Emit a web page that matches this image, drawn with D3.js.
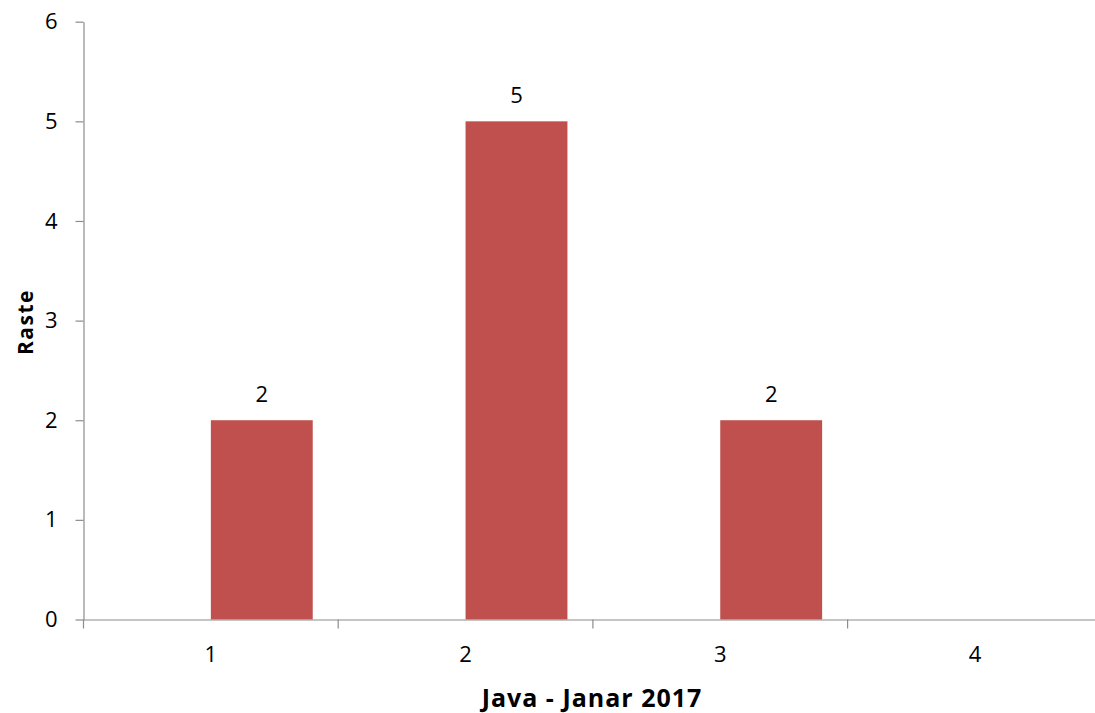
<!DOCTYPE html>
<html>
<head>
<meta charset="utf-8">
<script src="https://cdn.jsdelivr.net/npm/d3@7"></script>
<style>
  html, body { margin: 0; padding: 0; background: #fff; }
  svg { display: block; font-family: "Open Sans", sans-serif; }
</style>
</head>
<body>
<svg id="chart" width="1095" height="713"></svg>
<script>
// Chart data
const categories = ["1", "2", "3", "4"];
const seriesNames = ["Seria 1", "Seria 2"];
const seriesEmpty = [null, null, null, null];
const seriesRaste = [2, 5, 2, null];
const yTicks = [0, 1, 2, 3, 4, 5, 6];
const xTitle = "Java - Janar 2017";
const yTitle = "Raste";

const svg = d3.select("#chart");
const plotLeft = 83.5, plotRight = 1102.3, plotTop = 21.7, plotBottom = 619.5;
const axisColor = "#8c8c8c";
const barColor = "#C0504D";
const fontFamily = "'Open Sans', sans-serif";
const tickFont = 22;

const x0 = d3.scaleBand().domain(categories).range([plotLeft, plotRight]).padding(0);
const x1 = d3.scaleBand().domain(seriesNames).range([0, x0.bandwidth()])
  .paddingInner(0).paddingOuter(0.25);
const y = d3.scaleLinear().domain([0, 6]).range([plotBottom, plotTop]);

const rows = categories.map((c, i) => ({
  cat: c,
  values: [
    { s: seriesNames[0], v: seriesEmpty[i] },
    { s: seriesNames[1], v: seriesRaste[i] }
  ]
}));

// Bars
const groups = svg.append("g").selectAll("g").data(rows).join("g")
  .attr("transform", d => `translate(${x0(d.cat)},0)`);

groups.selectAll("rect")
  .data(d => d.values.filter(v => v.v != null))
  .join("rect")
  .attr("x", d => x1(d.s))
  .attr("width", x1.bandwidth())
  .attr("y", d => y(d.v))
  .attr("height", d => y(0) - y(d.v))
  .attr("fill", barColor);

// Value labels
groups.selectAll("text.val")
  .data(d => d.values.filter(v => v.v != null))
  .join("text")
  .attr("class", "val")
  .attr("x", d => x1(d.s) + x1.bandwidth() / 2)
  .attr("y", d => y(d.v) - 18.5)
  .attr("text-anchor", "middle")
  .attr("font-size", tickFont)
  .attr("font-family", fontFamily)
  .attr("fill", "#000")
  .text(d => d.v);

// Y axis
const yAxis = svg.append("g")
  .attr("transform", `translate(${plotLeft},0)`)
  .call(d3.axisLeft(y).tickValues(yTicks).tickFormat(d3.format("d"))
    .tickSizeInner(8).tickSizeOuter(0).tickPadding(18));
yAxis.select(".domain").attr("stroke", axisColor).attr("stroke-width", 1.2);
yAxis.selectAll(".tick line").attr("stroke", axisColor).attr("stroke-width", 1.2);
yAxis.selectAll(".tick text").attr("font-size", tickFont).attr("fill", "#000")
  .attr("font-family", fontFamily);

// X axis: category labels centred, tick marks on band boundaries
const xAxis = svg.append("g")
  .attr("transform", `translate(0,${plotBottom})`)
  .call(d3.axisBottom(x0).tickSize(0).tickPadding(27));
xAxis.select(".domain").attr("stroke", axisColor).attr("stroke-width", 1.2);
xAxis.selectAll(".tick text").attr("font-size", tickFont).attr("fill", "#000")
  .attr("font-family", fontFamily);

const boundaries = categories.map(c => x0(c)).concat([plotRight]);
xAxis.selectAll("line.sep").data(boundaries).join("line")
  .attr("class", "sep")
  .attr("x1", d => d).attr("x2", d => d)
  .attr("y1", 0).attr("y2", 9)
  .attr("stroke", axisColor).attr("stroke-width", 1.2);

// Axis titles
svg.append("text")
  .attr("x", 592)
  .attr("y", 707)
  .attr("text-anchor", "middle")
  .attr("font-size", 25)
  .attr("font-weight", "bold")
  .attr("letter-spacing", 1)
  .attr("font-family", fontFamily)
  .attr("fill", "#000")
  .text(xTitle);

svg.append("text")
  .attr("transform", "translate(33,322) rotate(-90)")
  .attr("text-anchor", "middle")
  .attr("font-size", 21)
  .attr("font-weight", "bold")
  .attr("letter-spacing", 1.5)
  .attr("font-family", fontFamily)
  .attr("fill", "#000")
  .text(yTitle);
</script>
</body>
</html>
